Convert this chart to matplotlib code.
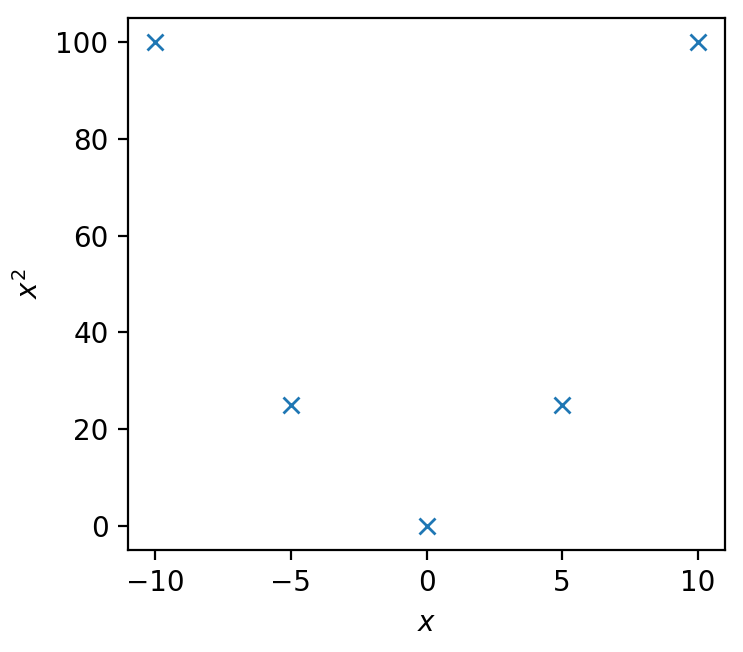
import matplotlib
matplotlib.use("Agg")
import matplotlib.pyplot as plt

x_values = [-10, -5, 0, 5, 10]
y_values = [100, 25, 0, 25, 100]

fig = plt.figure(figsize=(743/200, 652/200), dpi=200)
ax = fig.add_axes([128/743, 1-550/652, (725-128)/743, (550-18)/652])
ax.plot(x_values, y_values, 'x', color='#1f77b4')
ax.set_xlabel('$x$')
ax.set_ylabel('$x^2$')
fig.savefig('out.png', dpi=200)
